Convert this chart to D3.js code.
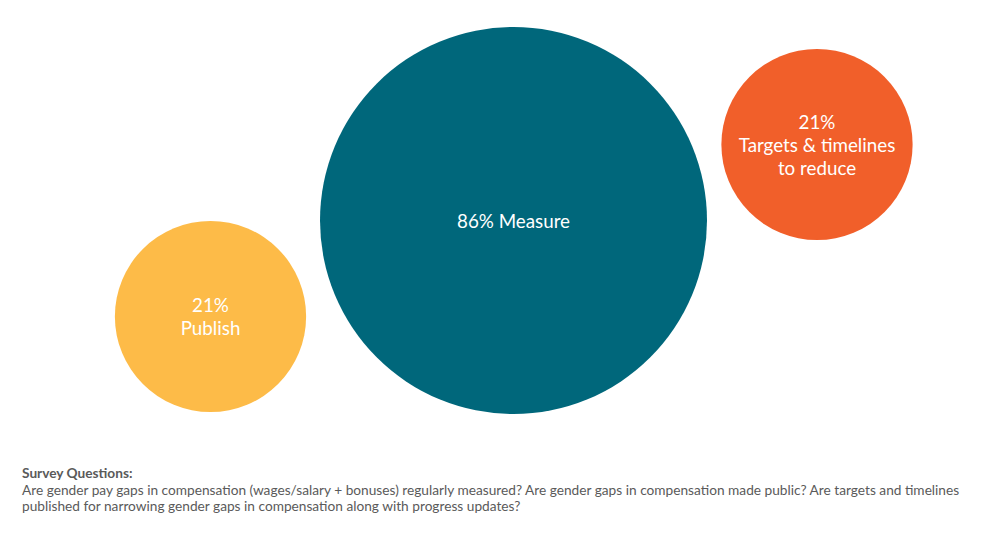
<!DOCTYPE html>
<html>
<head>
<meta charset="utf-8">
<script src="https://cdn.jsdelivr.net/npm/d3@7"></script>
<style>
  html, body { margin: 0; padding: 0; background: #fff; }
  svg { display: block; }
</style>
</head>
<body>
<div id="chart"></div>
<script>
// Survey results (share of respondents)
const categories = ['Publish', 'Measure', 'Targets & timelines to reduce'];
const values = [21, 86, 21];
const labelLines = [
    ['21%', 'Publish'],
    ['86% Measure'],
    ['21%', 'Targets & timelines', 'to reduce']
];
const colors = ['#FDBB48', '#00677B', '#F15F2A'];

const footerTitle = 'Survey Questions:';
const footerLines = [
    'Are gender pay gaps in compensation (wages/salary + bonuses) regularly measured? Are gender gaps in compensation made public? Are targets and timelines',
    'published for narrowing gender gaps in compensation along with progress updates?'
];

// bubble centres on the page (layout only)
const centres = [[210.5, 316.5], [513.5, 220.5], [817, 144.5]];

const width = 1000, height = 543;

const svg = d3.select('#chart')
    .append('svg')
    .attr('width', width)
    .attr('height', height);

// area-proportional bubbles
const r = d3.scaleSqrt()
    .domain([0, d3.max(values)])
    .range([0, 193.5]);

const bubbles = svg.selectAll('g.bubble')
    .data(categories.map((c, i) => ({ name: c, value: values[i], lines: labelLines[i], color: colors[i], pos: centres[i] })))
    .join('g')
    .attr('class', 'bubble')
    .attr('transform', d => `translate(${d.pos[0]},${d.pos[1]})`);

bubbles.append('circle')
    .attr('r', d => r(d.value))
    .attr('fill', d => d.color);

const lineHeight = 23;
bubbles.append('text')
    .attr('text-anchor', 'middle')
    .style('font-family', 'Lato, sans-serif')
    .style('font-size', '18.8px')
    .style('fill', '#fff')
    .selectAll('tspan')
    .data(d => d.lines.map((l, i) => ({ text: l, i: i, n: d.lines.length })))
    .join('tspan')
    .attr('x', 0)
    .attr('y', d => (d.i - (d.n - 1) / 2) * lineHeight + 7)
    .text(d => d.text);

// footer
const footer = svg.append('g')
    .style('font-family', 'Lato, sans-serif')
    .style('font-size', '13.7px')
    .style('fill', '#5a5a5a');

footer.append('text')
    .attr('x', 22)
    .attr('y', 478)
    .style('font-weight', 'bold')
    .text(footerTitle);

footer.selectAll('text.q')
    .data(footerLines)
    .join('text')
    .attr('class', 'q')
    .attr('x', 22)
    .attr('y', (d, i) => 494.5 + i * 16.5)
    .text(d => d);
</script>
</body>
</html>
